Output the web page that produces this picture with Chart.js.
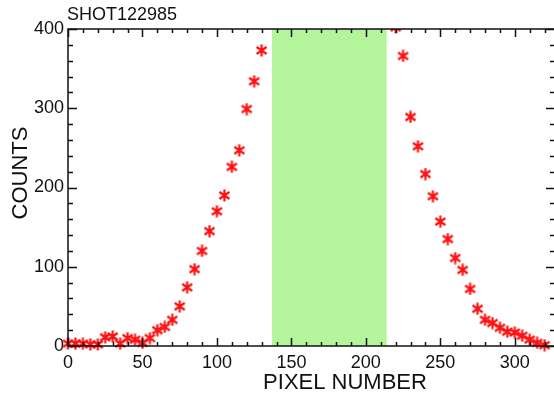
<!DOCTYPE html>
<html>
<head>
<meta charset="utf-8">
<script src="https://cdn.jsdelivr.net/npm/chart.js@4/dist/chart.umd.min.js"></script>
<style>
    html, body { margin: 0; padding: 0; background: #fff; overflow: hidden; }
    #wrap { width: 560px; height: 400px; }
</style>
</head>
<body>
<div id="wrap"><canvas id="shotChart" width="560" height="400"></canvas></div>
<script>
// profile samples either side of the masked window
var leftPixels = [0, 5, 10, 15, 20, 25, 30, 35, 40, 45, 50, 55, 60, 65, 70, 75, 80, 85, 90, 95, 100, 105, 110, 115, 120, 125, 130];
var leftCounts = [3, 3, 3, 2, 2, 11, 12, 3, 10, 8, 4, 10, 20, 24, 33, 50, 74, 97, 120, 145, 170, 190, 226, 247, 299, 334, 373];
var rightPixels = [220, 225, 230, 235, 240, 245, 250, 255, 260, 265, 270, 275, 280, 285, 290, 295, 300, 305, 310, 315, 320];
var rightCounts = [402, 366, 289, 252, 217, 189, 157, 135, 111, 96, 72, 47, 33, 29, 23, 18, 17, 13, 8, 4, 1];

// masked pixel window (green band)
var maskRange = [137, 214];

var xRange = [0, 327];
var yRange = [0, 400];
var xTickStep = 50, xMinorStep = 10;
var yTickStep = 100, yMinorStep = 20;

var shotLabel = "SHOT122985";
var xTitle = "PIXEL NUMBER";
var yTitle = "COUNTS";

var fontFamily = '"Liberation Sans", Arial, Helvetica, sans-serif';
var inkColor = "#111";

function makeAsterisk() {
    var c = document.createElement("canvas");
    c.width = 13;
    c.height = 13;
    var g = c.getContext("2d");
    g.strokeStyle = "#ff1010";
    g.lineWidth = 2.2;
    g.lineCap = "butt";
    g.beginPath();
    g.moveTo(6.5, 0.5); g.lineTo(6.5, 12.5);
    g.moveTo(1.5, 3); g.lineTo(11.5, 10);
    g.moveTo(1.5, 10); g.lineTo(11.5, 3);
    g.stroke();
    return c;
}

var points = [];
leftPixels.forEach(function (px, i) { points.push({ x: px, y: leftCounts[i] }); });
rightPixels.forEach(function (px, i) { points.push({ x: px, y: rightCounts[i] }); });

var maskBand = {
    id: "maskBand",
    beforeDatasetsDraw: function (chart) {
        var ctx = chart.ctx, xs = chart.scales.x, area = chart.chartArea;
        var x0 = xs.getPixelForValue(maskRange[0]);
        var x1 = xs.getPixelForValue(maskRange[1]);
        ctx.save();
        ctx.fillStyle = "#b4f59b";
        ctx.fillRect(x0, area.top, x1 - x0, area.bottom - area.top);
        ctx.restore();
    }
};

// box frame with inward ticks on all four sides, plus the text
var frame = {
    id: "frame",
    afterDatasetsDraw: function (chart) {
        var ctx = chart.ctx, xs = chart.scales.x, ys = chart.scales.y, a = chart.chartArea;
        ctx.save();
        ctx.strokeStyle = inkColor;
        ctx.lineWidth = 1.5;
        ctx.strokeRect(a.left, a.top, a.right - a.left, a.bottom - a.top);
        ctx.beginPath();
        for (var v = xRange[0]; v <= xRange[1]; v += xMinorStep) {
            var px = Math.round(xs.getPixelForValue(v)) + 0.5;
            var len = v % xTickStep === 0 ? 8 : 4;
            ctx.moveTo(px, a.bottom); ctx.lineTo(px, a.bottom - len);
            ctx.moveTo(px, a.top); ctx.lineTo(px, a.top + len);
        }
        for (var w = yRange[0]; w <= yRange[1]; w += yMinorStep) {
            var py = Math.round(ys.getPixelForValue(w)) + 0.5;
            var ylen = w % yTickStep === 0 ? 9 : 5;
            ctx.moveTo(a.left, py); ctx.lineTo(a.left + ylen, py);
            ctx.moveTo(a.right, py); ctx.lineTo(a.right - ylen, py);
        }
        ctx.stroke();

        ctx.fillStyle = inkColor;
        ctx.font = "18px " + fontFamily;
        ctx.textAlign = "left";
        ctx.textBaseline = "middle";
        ctx.fillText(shotLabel, a.left - 1, 15);

        ctx.font = "22px " + fontFamily;
        ctx.textAlign = "center";
        ctx.fillText(xTitle, 345, 383);

        ctx.translate(21, 173);
        ctx.rotate(-Math.PI / 2);
        ctx.fillText(yTitle, 0, 0);
        ctx.restore();
    }
};

var chartElement = document.getElementById("shotChart").getContext("2d");
var chartObject = new Chart(chartElement, {
    type: "scatter",
    data: {
        datasets: [{
            data: points,
            pointStyle: makeAsterisk(),
            showLine: false,
            clip: { left: 8, right: 8, top: 0, bottom: 8 }
        }]
    },
    options: {
        responsive: false,
        devicePixelRatio: 1,
        animation: false,
        layout: { padding: { top: 29, right: 4, left: 0, bottom: 0 } },
        plugins: {
            legend: { display: false },
            tooltip: { enabled: false }
        },
        scales: {
            x: {
                type: "linear",
                min: xRange[0],
                max: xRange[1],
                grid: { display: false, drawTicks: false },
                border: { display: false },
                ticks: {
                    stepSize: xTickStep,
                    includeBounds: false,
                    padding: 6,
                    color: inkColor,
                    font: { family: fontFamily, size: 18 }
                },
                afterFit: function (scale) { scale.height = 54; }
            },
            y: {
                type: "linear",
                min: yRange[0],
                max: yRange[1],
                grid: { display: false, drawTicks: false },
                border: { display: false },
                ticks: {
                    stepSize: yTickStep,
                    padding: 4,
                    color: inkColor,
                    font: { family: fontFamily, size: 18 }
                },
                afterFit: function (scale) { scale.width = 68; }
            }
        }
    },
    plugins: [maskBand, frame]
});
</script>
</body>
</html>
